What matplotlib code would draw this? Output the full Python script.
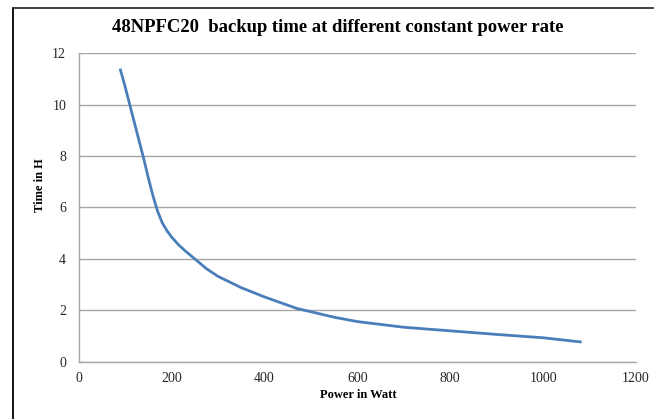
import matplotlib
matplotlib.use('Agg')
import matplotlib.pyplot as plt
from matplotlib.lines import Line2D

power = [90, 100, 110, 120, 130, 140, 150, 160, 170, 180, 190, 200, 215, 230, 250, 275, 300,
         350, 400, 470, 550, 600, 700, 800, 900, 1000, 1080]
hours = [11.35, 10.7, 10.0, 9.3, 8.6, 7.9, 7.15, 6.45, 5.85, 5.4, 5.1, 4.85, 4.55, 4.3, 4.0, 3.62, 3.32,
         2.88, 2.52, 2.07, 1.73, 1.56, 1.34, 1.2, 1.06, 0.93, 0.77]
xticks = [0, 200, 400, 600, 800, 1000, 1200]
yticks = [0, 2, 4, 6, 8, 10, 12]

plt.rcParams['font.family'] = ['Liberation Serif', 'DejaVu Serif']

fig = plt.figure(figsize=(6.54, 4.19), dpi=100)
ax = fig.add_axes([0.1203, 0.1368, 0.8522, 0.736])
ax.plot(power, hours, color='#4A7EBB', lw=2.0, solid_joinstyle='round')
ax.set_xlim(0, 1200); ax.set_ylim(0, 12)
ax.set_xticks(xticks); ax.set_yticks(yticks)
ax.yaxis.grid(True, color='#A6A6A6', lw=1.0)
ax.set_axisbelow(True)
for s in ['top', 'right']:
    ax.spines[s].set_visible(False)
for s in ['left', 'bottom']:
    ax.spines[s].set_color('#A6A6A6'); ax.spines[s].set_linewidth(1.0)
ax.tick_params(length=0, labelsize=10, colors='#262626')
ax.tick_params(axis='x', pad=7.5)
ax.tick_params(axis='y', pad=9)

fig.text(338/654, 1-27/419, '48NPFC20  backup time at different constant power rate',
         ha='center', va='center', fontsize=13.4, fontweight='bold')
fig.text(358/654, 1-395/419, 'Power in Watt', ha='center', va='center', fontsize=9, fontweight='bold')
fig.text(40/654, 1-185/419, 'Time in H', ha='center', va='center', rotation=90,
         fontsize=9, fontweight='bold')

# chart frame (cut at right/bottom)
fig.add_artist(Line2D([13/654, 13/654], [1-8/419, 0], transform=fig.transFigure, color='black', lw=1.3))
fig.add_artist(Line2D([13/654, 1], [1-8/419, 1-8/419], transform=fig.transFigure, color='#333333', lw=1.3))

fig.savefig('out.png', dpi=100)
